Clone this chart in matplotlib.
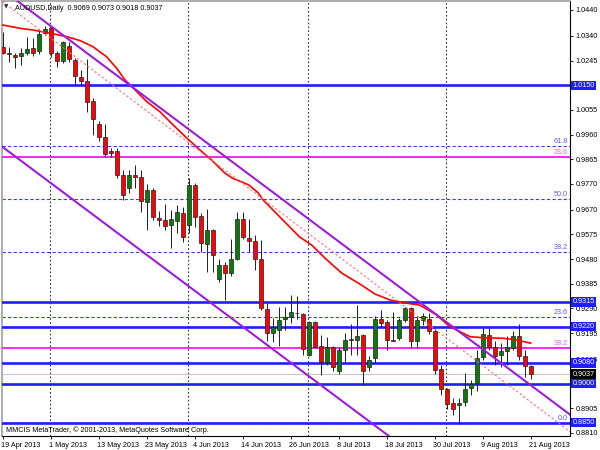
import matplotlib
matplotlib.use("Agg")
import matplotlib.pyplot as plt
from matplotlib.patches import Rectangle
import matplotlib.transforms as mtrans

plt.rcParams['font.family'] = ['Liberation Sans', 'DejaVu Sans']

# ---------------- data ----------------
x_tick_idx = [0, 8, 16, 24, 32, 40, 48, 56, 64, 72, 80, 88]
x_tick_labels = ["19 Apr 2013", "1 May 2013", "13 May 2013", "23 May 2013", "4 Jun 2013",
                 "14 Jun 2013", "26 Jun 2013", "8 Jul 2013", "18 Jul 2013", "30 Jul 2013",
                 "9 Aug 2013", "21 Aug 2013"]
month_sep_idx = [8, 31, 51, 74]

opens = [1.0297, 1.0276, 1.0268, 1.0261, 1.0276, 1.0292, 1.0282, 1.0351, 1.0371, 1.0276,
         1.0243, 1.0301, 1.0249, 1.0180, 1.0166, 1.0089, 0.9999, 0.9949, 0.9895, 0.9897,
         0.9804, 0.9754, 0.9804, 0.9798, 0.9700, 0.9746, 0.9640, 0.9629, 0.9611, 0.9627,
         0.9658, 0.9611, 0.9766, 0.9646, 0.9538, 0.9592, 0.9403, 0.9459, 0.9425, 0.9480,
         0.9633, 0.9561, 0.9548, 0.9480, 0.9286, 0.9195, 0.9205, 0.9249, 0.9257, 0.9274,
         0.9270, 0.9110, 0.9236, 0.9145, 0.9084, 0.9141, 0.9047, 0.9130, 0.9174, 0.9168,
         0.9188, 0.9066, 0.9099, 0.9251, 0.9236, 0.9170, 0.9176, 0.9245, 0.9292, 0.9163,
         0.9245, 0.9251, 0.9203, 0.9058, 0.8979, 0.8924, 0.8918, 0.8929, 0.8983, 0.9003,
         0.9101, 0.9188, 0.9143, 0.9110, 0.9124, 0.9137, 0.9182, 0.9107, 0.9069]
highs = [1.0355, 1.0297, 1.0274, 1.0294, 1.0336, 1.0332, 1.0363, 1.0378, 1.0376, 1.0282,
         1.0321, 1.0317, 1.0255, 1.0207, 1.0251, 1.0099, 1.0012, 0.9999, 0.9910, 0.9910,
         0.9823, 0.9823, 0.9841, 0.9823, 0.9769, 0.9754, 0.9665, 0.9692, 0.9669, 0.9689,
         0.9681, 0.9793, 0.9773, 0.9656, 0.9673, 0.9596, 0.9480, 0.9467, 0.9559, 0.9660,
         0.9663, 0.9636, 0.9573, 0.9552, 0.9309, 0.9253, 0.9295, 0.9295, 0.9342, 0.9338,
         0.9274, 0.9240, 0.9240, 0.9188, 0.9180, 0.9145, 0.9143, 0.9197, 0.9230, 0.9303,
         0.9191, 0.9105, 0.9259, 0.9284, 0.9245, 0.9276, 0.9253, 0.9297, 0.9297, 0.9259,
         0.9272, 0.9272, 0.9213, 0.9071, 0.8985, 0.8945, 0.8943, 0.9043, 0.9014, 0.9130,
         0.9213, 0.9216, 0.9163, 0.9155, 0.9182, 0.9201, 0.9228, 0.9130, 0.9073]
lows = [1.0270, 1.0240, 1.0216, 1.0228, 1.0267, 1.0263, 1.0270, 1.0344, 1.0259, 1.0220,
        1.0236, 1.0240, 1.0151, 1.0151, 1.0047, 0.9958, 0.9935, 0.9873, 0.9873, 0.9793,
        0.9708, 0.9735, 0.9754, 0.9663, 0.9592, 0.9631, 0.9608, 0.9592, 0.9523, 0.9581,
        0.9546, 0.9581, 0.9604, 0.9509, 0.9432, 0.9432, 0.9390, 0.9322, 0.9415, 0.9477,
        0.9559, 0.9509, 0.9438, 0.9284, 0.9163, 0.9161, 0.9145, 0.9207, 0.9234, 0.9251,
        0.9110, 0.9105, 0.9136, 0.9033, 0.9072, 0.9049, 0.9037, 0.9082, 0.9110, 0.9110,
        0.8995, 0.9047, 0.9078, 0.9218, 0.9130, 0.9164, 0.9168, 0.9238, 0.9137, 0.9137,
        0.9226, 0.9193, 0.9039, 0.8956, 0.8902, 0.8879, 0.8845, 0.8912, 0.8956, 0.8970,
        0.9091, 0.9130, 0.9072, 0.9066, 0.9072, 0.9130, 0.9091, 0.9024, 0.9018]
closes = [1.0274, 1.0272, 1.0257, 1.0276, 1.0290, 1.0276, 1.0347, 1.0367, 1.0274, 1.0245,
          1.0317, 1.0251, 1.0184, 1.0168, 1.0087, 1.0020, 0.9949, 0.9885, 0.9887, 0.9804,
          0.9727, 0.9804, 0.9798, 0.9702, 0.9746, 0.9644, 0.9631, 0.9608, 0.9633, 0.9662,
          0.9565, 0.9766, 0.9644, 0.9542, 0.9592, 0.9496, 0.9459, 0.9425, 0.9480, 0.9636,
          0.9565, 0.9548, 0.9482, 0.9292, 0.9195, 0.9218, 0.9247, 0.9257, 0.9276, 0.9272,
          0.9134, 0.9236, 0.9143, 0.9084, 0.9141, 0.9064, 0.9130, 0.9170, 0.9168, 0.9184,
          0.9047, 0.9093, 0.9251, 0.9232, 0.9168, 0.9166, 0.9245, 0.9293, 0.9163, 0.9245,
          0.9261, 0.9203, 0.9053, 0.8979, 0.8922, 0.8902, 0.8927, 0.8981, 0.8997, 0.9097,
          0.9193, 0.9143, 0.9107, 0.9124, 0.9143, 0.9182, 0.9105, 0.9068, 0.9037]

# moving average
ma_idx = [0, 3, 5, 8, 10.7, 12.9, 15, 17.3, 19, 20.4, 21.8, 24, 26.2, 28.4, 30.7, 32.9,
          34.8, 37, 38.2, 41, 42.6, 43.4, 46.2, 49.5, 51.5, 53.7, 56.5, 59.8, 62, 64.6,
          67.3, 69.5, 72.3, 74.5, 77.9, 80.1, 83.4, 85.7, 88]
ma_vals = [1.0382, 1.0369, 1.0363, 1.0350, 1.0337, 1.0322, 1.0299, 1.0260, 1.0215, 1.0170,
           1.0138, 1.0087, 1.0048, 0.9997, 0.9946, 0.9900, 0.9862, 0.9812, 0.9793, 0.9766,
           0.9735, 0.9708, 0.9642, 0.9565, 0.9534, 0.9484, 0.9426, 0.9380, 0.9346, 0.9322,
           0.9310, 0.9303, 0.9265, 0.9220, 0.9181, 0.9177, 0.9175, 0.9168, 0.9156]

# trend lines: (bar index, price) endpoints
upper_channel = ([-1, 95], [1.0534, 0.8873])
lower_channel = ([-1, 95], [0.9929, 0.8268])
dotted_line = ([-1, 95], [1.0489, 0.8807])

# horizontal levels
blue_levels = [1.0150, 0.9315, 0.9220, 0.9080, 0.9000, 0.8850]
magenta_levels = [0.98735, 0.91375]
magenta_labels = ["23.6", "38.2"]
fib_levels = [0.9916, 0.9712, 0.9507, 0.9257, 0.8848]
fib_labels = ["61.8", "50.0", "38.2", "23.6", "0.0"]
current_price = 0.9037

y_ticks = [1.0440, 1.0340, 1.0245, 1.0055, 0.9960, 0.9865, 0.9770, 0.9670, 0.9575,
           0.9480, 0.9385, 0.9290, 0.9195, 0.9095, 0.8905, 0.8810]

title_text = "AUDUSD,Daily  0.9069 0.9073 0.9018 0.9037"
copyright_text = "MMCIS MetaTrader, \u00a9 2001-2013, MetaQuotes Software Corp."

# ---------------- plot ----------------
FS = 5.2
W, H = 600, 450
fig = plt.figure(figsize=(6, 4.5), dpi=100)
fig.patch.set_facecolor('white')
ax = fig.add_axes([2 / W, 1 - 436 / H, 568 / W, 435 / H])
ax.set_xlim(-0.12, 94.55)
ax.set_ylim(0.87983, 1.04746)

# month separators
for m in month_sep_idx:
    ax.axvline(m - 0.1, color='#303030', lw=0.8, ls=(0, (1.5, 2.0)), zorder=1)

# fib dashed levels
for lv, lb in zip(fib_levels, fib_labels):
    ax.axhline(lv, color='#3c3cff', lw=0.8, ls=(0, (3, 2)), zorder=2)
    ax.text(0.9965, lv + 0.0004, lb, transform=mtrans.blended_transform_factory(ax.transAxes, ax.transData),
            ha='right', va='bottom', fontsize=FS, color='#5a5aff', zorder=6)

# magenta levels
for lv, lb in zip(magenta_levels, magenta_labels):
    ax.axhline(lv, color='#ff00ff', lw=1.2, zorder=3)
    ax.text(0.9965, lv + 0.0004, lb, transform=mtrans.blended_transform_factory(ax.transAxes, ax.transData),
            ha='right', va='bottom', fontsize=FS, color='#ff55ff', zorder=6)

# current price line
ax.axhline(current_price, color='#c8c8c8', lw=0.8, zorder=2)

# blue levels
for lv in blue_levels:
    ax.axhline(lv, color='#1e1eff', lw=1.9, zorder=3)

# candles
for i, (o, h, l, c) in enumerate(zip(opens, highs, lows, closes)):
    ax.plot([i, i], [l, h], color='#202020', lw=0.7, zorder=4, solid_capstyle='butt')
    bottom = min(o, c)
    height = max(abs(c - o), 0.00012)
    col = '#00aa00' if c > o else '#ff0000'
    col = '#0a7a0a' if c > o else '#ff0000'
    ax.add_patch(Rectangle((i - 0.33, bottom), 0.66, height, facecolor=col,
                           edgecolor='#202020', lw=0.5, zorder=5))

# moving average
ax.plot(ma_idx, ma_vals, color='#ff0000', lw=1.2, zorder=6)

# trend lines
ax.plot(upper_channel[0], upper_channel[1], color='#9b1fd6', lw=1.5, zorder=6)
ax.plot(lower_channel[0], lower_channel[1], color='#9b1fd6', lw=1.5, zorder=6)
ax.plot(dotted_line[0], dotted_line[1], color='#ff7070', lw=0.8, ls=(0, (2, 2)), zorder=6)

# axes styling
for s in ['left', 'top']:
    ax.spines[s].set_color('#a0a0a0')
    ax.spines[s].set_linewidth(1.2)
for s in ['right', 'bottom']:
    ax.spines[s].set_color('#000000')
    ax.spines[s].set_linewidth(0.8)

ax.yaxis.tick_right()
ax.set_yticks(y_ticks)
ax.set_yticklabels([f"{v:.4f}" for v in y_ticks])
ax.tick_params(axis='y', direction='out', length=2.5, width=0.6, pad=1.5, labelsize=FS,
               colors='#000000')
ax.set_xticks(x_tick_idx)
ax.set_xticklabels(x_tick_labels)
ax.tick_params(axis='x', direction='out', length=2.5, width=0.6, pad=1.5, labelsize=FS)
for lab in ax.get_xticklabels():
    lab.set_ha('left')
    lab.set_x(0)
ax.xaxis.set_tick_params(which='both')
offset = mtrans.ScaledTranslation(-1.5 / 100, 0, fig.dpi_scale_trans)
for lab in ax.get_xticklabels():
    lab.set_transform(lab.get_transform() + offset)

# highlighted price labels on the right axis
bt = mtrans.blended_transform_factory(ax.transAxes, ax.transData)
for lv in blue_levels:
    ax.text(1.0045, lv, f"{lv:.4f}", transform=bt, ha='left', va='center', fontsize=FS,
            color='white', clip_on=False, zorder=10,
            bbox=dict(facecolor='#1e1eff', edgecolor='none', pad=0.9))
ax.text(1.0045, current_price, f"{current_price:.4f}", transform=bt, ha='left', va='center',
        fontsize=FS, color='white', clip_on=False, zorder=10,
        bbox=dict(facecolor='#000000', edgecolor='none', pad=0.9))

# title and copyright
fig.text(15 / W, 1 - 8 / H, title_text, fontsize=FS, ha='left', va='center', color='#000000')
fig.text(6.5 / W, 1 - 7 / H, "\u25bc", fontsize=4, ha='center', va='center', color='#303030',
         family='DejaVu Sans')
ax.text(4 / 568, (436 - 430) / 435, copyright_text, transform=ax.transAxes, fontsize=FS,
        ha='left', va='center', color='#000000', zorder=10)

fig.savefig("out.png", dpi=100, facecolor='white')
